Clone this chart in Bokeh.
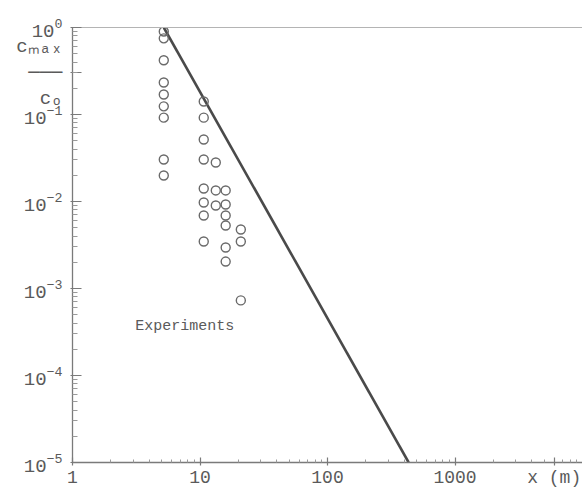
from bokeh.plotting import figure
from bokeh.models import Label, LogAxis, Range1d, FixedTicker, PrintfTickFormatter
from bokeh.embed import file_html
from bokeh.resources import INLINE

# ---- data ----
exp_x = [5.2, 5.2, 5.2, 5.2, 5.2, 5.2, 5.2, 5.2, 5.2,
         10.7, 10.7, 10.7, 10.7, 10.7, 10.7, 10.7, 10.7,
         13.3, 13.3, 13.3,
         15.9, 15.9, 15.9, 15.9, 15.9, 15.9,
         20.9, 20.9, 20.9]
exp_c = [0.90, 0.75, 0.42, 0.233, 0.17, 0.124, 0.092, 0.0304, 0.0199,
         0.141, 0.092, 0.0516, 0.0304, 0.0141, 0.00975, 0.0069, 0.00347,
         0.0281, 0.0134, 0.0090,
         0.0134, 0.00924, 0.0069, 0.0053, 0.00296, 0.00204,
         0.00477, 0.00347, 0.00073]

theory_x = [5.2, 433.0]
theory_c = [1.0, 1e-5]

y_decades = [1.0, 1e-1, 1e-2, 1e-3, 1e-4, 1e-5]
x_decades = [1, 10, 100, 1000]
x_title = "x (m)"
x_title_at = 6000            # x axis title sits where the 6000 tick is
y_title = "c\u2098\u2090\u2093\n\u2500\u2500\u2500\nc\u2092"
y_title_at = 0.3             # y axis title sits at the 0.3 tick

X_MIN, X_MAX = 1, 10000
Y_MIN, Y_MAX = 1e-5, 1.0

TXT = "#5a5a5a"
AX = "#7a7a7a"
FONT = "Liberation Mono"

p = figure(width=582, height=491, x_axis_type="log", y_axis_type="log",
           x_range=Range1d(X_MIN, X_MAX), y_range=Range1d(Y_MIN, Y_MAX),
           output_backend="svg", toolbar_location=None,
           min_border_left=72, min_border_right=0, min_border_top=27, min_border_bottom=29)
p.grid.visible = False
p.outline_line_color = None
p.background_fill_color = "white"
p.border_fill_color = "white"

x_minor = [m * d for d in x_decades for m in range(2, 10) if m * d != x_title_at]
y_minor = [m * d for d in y_decades[1:] for m in range(2, 10)]
p.xaxis.ticker = FixedTicker(ticks=x_decades + [x_title_at], minor_ticks=x_minor)
p.yaxis.ticker = FixedTicker(ticks=y_decades + [y_title_at], minor_ticks=y_minor)
p.xaxis.formatter = PrintfTickFormatter(format="%d")
p.xaxis.major_label_overrides = {x_title_at: x_title, str(x_title_at): x_title}
p.yaxis.major_label_overrides = {y_title_at: y_title, str(y_title_at): y_title}

for ax in (p.xaxis, p.yaxis):
    ax.axis_line_color = AX
    ax.axis_line_width = 1.3
    ax.major_tick_line_color = AX
    ax.major_tick_line_width = 1.2
    ax.minor_tick_line_color = "#9a9a9a"
    ax.minor_tick_out = 0
    ax.major_label_text_font = FONT
    ax.major_label_text_color = TXT

p.xaxis.major_label_text_font_size = "18px"
p.yaxis.major_label_text_font_size = "19px"
p.xaxis.major_tick_in = 5
p.xaxis.major_tick_out = 3
p.xaxis.minor_tick_in = 3
p.xaxis.major_label_standoff = 2
p.yaxis.major_tick_in = 9
p.yaxis.major_tick_out = 2
p.yaxis.minor_tick_in = 5
p.yaxis.major_label_standoff = 8

top_axis = LogAxis(axis_line_color="#b4b4b4", axis_line_width=1.2,
                   major_tick_line_color=None, minor_tick_line_color=None,
                   major_label_text_font_size="1px", major_label_text_alpha=0,
                   major_label_standoff=0)
p.add_layout(top_axis, "above")

p.line(theory_x, theory_c, line_color="#4a4a4a", line_width=2.6)
p.scatter(exp_x, exp_c, marker="circle", size=9, fill_color=None,
          line_color="#6a6a6a", line_width=1.4)

p.add_layout(Label(x=3.1, y=3.7e-4, text="Experiments",
                   text_font=FONT, text_font_size="15px", text_color=TXT,
                   text_baseline="alphabetic", text_align="left"))

open("out.html", "w").write(file_html(p, INLINE))
